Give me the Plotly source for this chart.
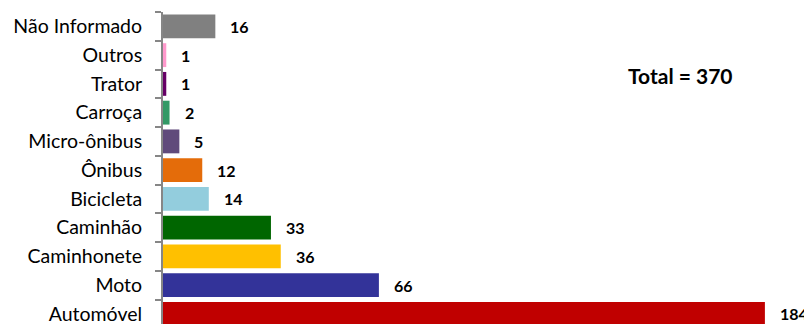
import plotly.graph_objects as go

categories = ["Automóvel", "Moto", "Caminhonete", "Caminhão", "Bicicleta", "Ônibus",
              "Micro-ônibus", "Carroça", "Trator", "Outros", "Não Informado"]
values = [184, 66, 36, 33, 14, 12, 5, 2, 1, 1, 16]
colors = ["#C00000", "#333399", "#FFC000", "#006600", "#93CDDD", "#E46C0A",
          "#604A7B", "#339966", "#660066", "#FF99CC", "#808080"]
total_label = "Total = 370"

FONT = "Lato, 'Open Sans', sans-serif"

fig = go.Figure()
fig.add_trace(go.Bar(
    x=values, y=categories, orientation="h",
    marker=dict(color=colors, line=dict(width=0)),
    width=0.83, hoverinfo="skip",
))

for c, v in zip(categories, values):
    fig.add_annotation(x=v, y=c, text=f"<b>{v}</b>", showarrow=False,
                       xanchor="left", xshift=13,
                       font=dict(family=FONT, size=16, color="#000000"))

fig.add_annotation(xref="paper", yref="paper", x=0.797, y=0.798, text=f"<b>{total_label}</b>",
                   showarrow=False, xanchor="center", yanchor="middle",
                   font=dict(family=FONT, size=21, color="#000000"))

# page body has an 8px default margin, so the figure is drawn 8px smaller
fig.update_layout(
    width=804, height=316,
    margin=dict(l=155, r=0, t=4, b=0, autoexpand=False),
    paper_bgcolor="white", plot_bgcolor="white",
    showlegend=False,
    bargap=0.15,
    xaxis=dict(range=[0, 198.4], visible=False, fixedrange=True),
    yaxis=dict(
        type="category", categoryorder="array", categoryarray=categories,
        range=[-0.35, 10.5],
        showline=True, linecolor="#868686", linewidth=2,
        ticks="outside", tickson="boundaries", ticklen=6, tickcolor="#868686", tickwidth=2,
        ticklabelstandoff=15,
        tickfont=dict(family=FONT, size=19.5, color="#000000"),
        showgrid=False, zeroline=False, automargin=False,
    ),
)

fig.write_html("out.html", default_width="796px", default_height="308px")
